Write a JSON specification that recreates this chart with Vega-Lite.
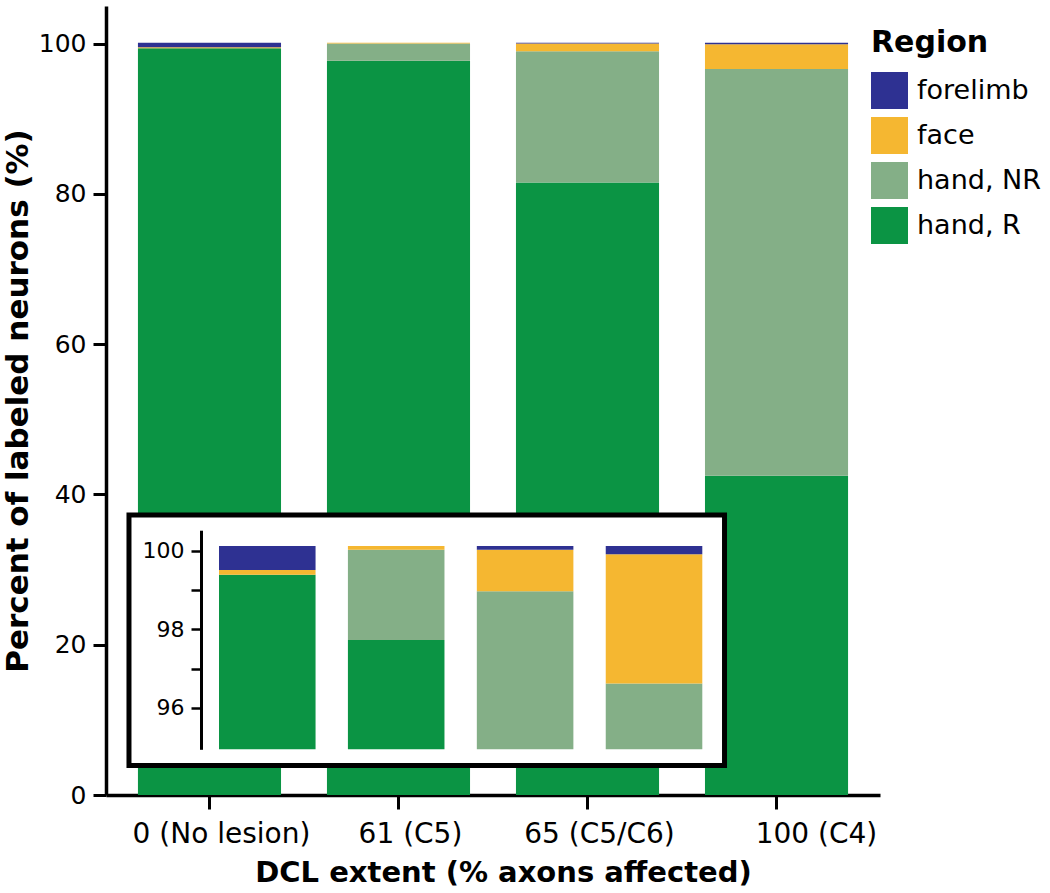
{
  "$schema": "https://vega.github.io/schema/vega-lite/v6.json",
  "autosize": {"type": "none"},
  "padding": {"left": 106, "top": 6, "right": 170, "bottom": 98},
  "width": 774,
  "height": 789,
  "background": "white",
  "config": {
    "view": {"stroke": null},
    "font": "DejaVu Sans",
    "axis": {"domainColor": "black", "tickColor": "black", "labelColor": "black", "titleColor": "black", "grid": false, "labelFont": "DejaVu Sans", "titleFont": "DejaVu Sans"},
    "legend": {"labelFont": "DejaVu Sans", "titleFont": "DejaVu Sans", "labelColor": "black", "titleColor": "black"}
  },
  "datasets": {
    "neurons": [
      {"extent": "0 (No lesion)", "Region": "hand, R", "pct": 99.39, "stackOrder": 1},
      {"extent": "0 (No lesion)", "Region": "hand, NR", "pct": 0, "stackOrder": 2},
      {"extent": "0 (No lesion)", "Region": "face", "pct": 0.12, "stackOrder": 3},
      {"extent": "0 (No lesion)", "Region": "forelimb", "pct": 0.61, "stackOrder": 4},
      {"extent": "61 (C5)", "Region": "hand, R", "pct": 97.73, "stackOrder": 1},
      {"extent": "61 (C5)", "Region": "hand, NR", "pct": 2.29, "stackOrder": 2},
      {"extent": "61 (C5)", "Region": "face", "pct": 0.10, "stackOrder": 3},
      {"extent": "61 (C5)", "Region": "forelimb", "pct": 0, "stackOrder": 4},
      {"extent": "65 (C5/C6)", "Region": "hand, R", "pct": 81.5, "stackOrder": 1},
      {"extent": "65 (C5/C6)", "Region": "hand, NR", "pct": 17.47, "stackOrder": 2},
      {"extent": "65 (C5/C6)", "Region": "face", "pct": 1.05, "stackOrder": 3},
      {"extent": "65 (C5/C6)", "Region": "forelimb", "pct": 0.10, "stackOrder": 4},
      {"extent": "100 (C4)", "Region": "hand, R", "pct": 42.5, "stackOrder": 1},
      {"extent": "100 (C4)", "Region": "hand, NR", "pct": 54.12, "stackOrder": 2},
      {"extent": "100 (C4)", "Region": "face", "pct": 3.29, "stackOrder": 3},
      {"extent": "100 (C4)", "Region": "forelimb", "pct": 0.21, "stackOrder": 4}
    ]
  },
  "layer": [
    {
      "data": {"name": "neurons"},
      "mark": {"type": "bar"},
      "encoding": {
        "x": {"field": "extent", "type": "nominal", "sort": null,
          "scale": {"paddingInner": 0.243, "paddingOuter": 0.169},
          "axis": {"title": "DCL extent (% axons affected)", "titleX": 397, "labelAngle": 0, "labelFontSize": 28,
            "labelOffset": {"condition": {"test": "datum.value == '100 (C4)'", "value": 40}, "value": 12},
            "titleFontSize": 29, "titleFontWeight": "bold", "tickSize": 14, "tickWidth": 3, "domainWidth": 3.5, "labelPadding": 11, "titlePadding": 10}},
        "y": {"field": "pct", "type": "quantitative", "stack": "zero",
          "scale": {"domain": [0, 105], "nice": false},
          "axis": {"values": [0, 20, 40, 60, 80, 100], "title": "Percent of labeled neurons (%)", "labelFontSize": 25, "titleFontSize": 31, "titleFontWeight": "bold", "tickSize": 13, "tickWidth": 3, "domainWidth": 3.5, "labelPadding": 7, "titlePadding": 4}},
        "color": {"field": "Region", "type": "nominal",
          "scale": {"domain": ["forelimb", "face", "hand, NR", "hand, R"], "range": ["#2E3192", "#F5B731", "#84AF87", "#0B9444"]},
          "legend": {"orient": "none", "legendX": 765, "legendY": 22, "title": "Region", "titleFontSize": 30, "titleFontWeight": "bold", "labelFontSize": 27, "symbolType": "square", "symbolSize": 1369, "symbolStrokeWidth": 0, "symbolOpacity": 1, "rowPadding": 8, "labelOffset": 9, "titlePadding": 14}},
        "order": {"field": "stackOrder", "type": "quantitative"}
      }
    },
    {
      "data": {"values": [{"frame": "inset"}]},
      "mark": {"type": "rect", "fill": "white", "stroke": "black", "strokeWidth": 5},
      "encoding": {
        "x": {"datum": -0.426, "type": "quantitative", "scale": {"domain": [-0.5476, 3.5476], "nice": false, "zero": false}, "axis": null},
        "x2": {"datum": 2.725},
        "y": {"datum": 37.26, "type": "quantitative", "scale": {"domain": [0, 105], "nice": false}, "axis": null},
        "y2": {"datum": 3.93}
      }
    },
    {
      "data": {"name": "neurons"},
      "mark": {"type": "bar"},
      "encoding": {
        "x": {"field": "extent", "type": "nominal", "sort": null,
          "scale": {"range": [113, 596.3], "paddingInner": 0.251, "paddingOuter": 0},
          "axis": null},
        "y": {"field": "pct", "type": "quantitative", "stack": "zero",
          "scale": {"domain": [94.95, 100.52], "range": [743.3, 524.2], "clamp": true, "zero": false, "nice": false},
          "axis": {"orient": "left", "offset": -95, "zindex": 2, "values": [96, 97, 98, 99, 100], "labelExpr": "datum.value % 2 === 0 ? datum.label : ''", "title": null, "labelFontSize": 22, "tickSize": 10, "tickWidth": 2.5, "domainWidth": 3, "labelPadding": 7}},
        "color": {"field": "Region", "type": "nominal",
          "scale": {"domain": ["forelimb", "face", "hand, NR", "hand, R"], "range": ["#2E3192", "#F5B731", "#84AF87", "#0B9444"]},
          "legend": {"orient": "none", "legendX": 765, "legendY": 22, "title": "Region", "titleFontSize": 30, "titleFontWeight": "bold", "labelFontSize": 27, "symbolType": "square", "symbolSize": 1369, "symbolStrokeWidth": 0, "symbolOpacity": 1, "rowPadding": 8, "labelOffset": 9, "titlePadding": 14}},
        "order": {"field": "stackOrder", "type": "quantitative"}
      }
    }
  ],
  "resolve": {
    "scale": {"x": "independent", "y": "independent", "color": "shared"},
    "axis": {"x": "independent", "y": "independent"}
  }
}
